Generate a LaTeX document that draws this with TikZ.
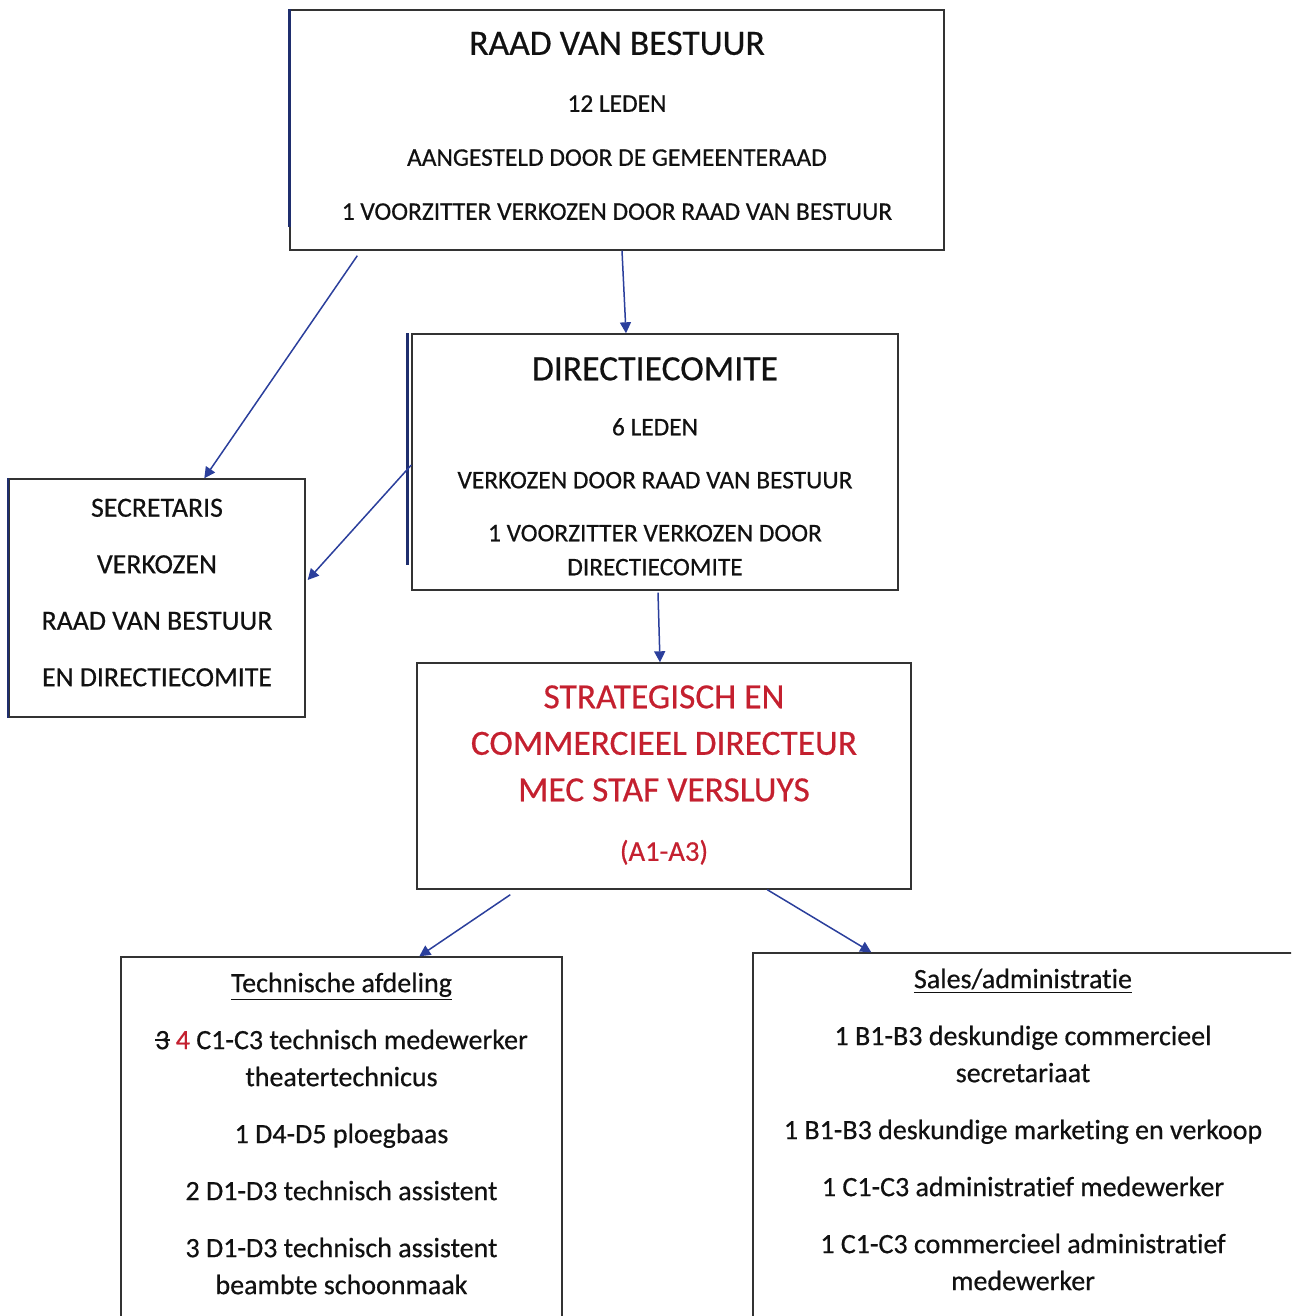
\documentclass[tikz,border=0pt]{standalone}
\usepackage{fontspec}
\setmainfont{Carlito}[Ligatures={NoCommon}, FakeBold=0.5]
\usepackage{tikz}
\usetikzlibrary{calc, positioning}
\usetikzlibrary{arrows.meta}
\definecolor{inkblack}{HTML}{111111}
\definecolor{boxgray}{HTML}{333333}
\definecolor{linkblue}{HTML}{2B3F9C}
\definecolor{edgenavy}{HTML}{1F2E6E}
\definecolor{orgred}{HTML}{C4202F}
\def\lw{0.7pt}
\def\tipsize{5.5pt}
\newcommand\strikedigit[1]{\rlap{\rule[0.28em]{0.52em}{0.07em}}#1}
\tikzset{
    orgbox/.style = {
        draw=boxgray, line width=\lw, rectangle, inner sep=0pt
    },
    boxtext/.style = {inner sep=0pt, align=center, text=inkblack},
    capstext/.style = {boxtext, font=\fontsize{12.7}{16}\selectfont},
    listtext/.style = {boxtext, font=\fontsize{14}{18.5}\selectfont},
    navyedge/.style = {draw=edgenavy, line width=1.3pt},
    link/.style = {draw=linkblue, line width=0.75pt, -{Triangle[width=\tipsize,length=\tipsize]}}
}
\newcommand\bigcaps[1]{{\fontsize{17.8}{22}\selectfont #1}}

\begin{document}
\begin{tikzpicture}[x=0.5pt, y=-0.5pt]
        \clip (0,0) rectangle (1291,1316);
        % Place the blocks
        \node [orgbox, minimum width=327pt, minimum height=120pt] (rvb) at (617,130) {};
        \node [orgbox, minimum width=243pt, minimum height=128pt] (dc) at (655,462) {};
        \node [orgbox, minimum width=148pt, minimum height=119pt] (secr) at (157,598) {};
        \node [orgbox, minimum width=247pt, minimum height=113pt] (strat) at (664,776) {};
        \node [orgbox, minimum width=220.5pt, minimum height=191.5pt] (tech) at (341.5,1148.5) {};
        \node [orgbox, minimum width=270pt, minimum height=193.5pt] (sales) at (1023,1146.5) {};

        % Texts of the blocks
        \node [capstext, below=11pt of rvb.north] (rvbtext)
            {\bigcaps{RAAD VAN BESTUUR}\\[12.5pt]
             12 LEDEN\\[11pt]
             AANGESTELD DOOR DE GEMEENTERAAD\\[11pt]
             1 VOORZITTER VERKOZEN DOOR RAAD VAN BESTUUR};
        \node [capstext, font=\fontsize{12.7}{17}\selectfont, below=11.75pt of dc.north] (dctext)
            {\bigcaps{DIRECTIECOMITE}\\[10.5pt]
             6 LEDEN\\[9.5pt]
             VERKOZEN DOOR RAAD VAN BESTUUR\\[9.5pt]
             1 VOORZITTER VERKOZEN DOOR\\
             DIRECTIECOMITE};
        \node [boxtext, font=\fontsize{13.9}{19}\selectfont, below=10pt of secr.north] (secrtext)
            {SECRETARIS\\[9.25pt]
             VERKOZEN\\[9.25pt]
             RAAD VAN BESTUUR\\[9.25pt]
             EN DIRECTIECOMITE};
        \node [boxtext, text=orgred, font=\fontsize{17.7}{23.25}\selectfont, below=11.3pt of strat.north] (strattext)
            {STRATEGISCH EN\\
             COMMERCIEEL DIRECTEUR\\
             MEC STAF VERSLUYS\\[6.5pt]
             {\fontsize{14.3}{16}\selectfont (A1-A3)}};
        \node [listtext, below=8pt of tech.north] (techlist)
            {\underline{Technische afdeling}\\[10pt]
             \strikedigit{3} \textcolor{orgred}{4} C1-C3 technisch medewerker\\
             theatertechnicus\\[10pt]
             1 D4-D5 ploegbaas\\[10pt]
             2 D1-D3 technisch assistent\\[10pt]
             3 D1-D3 technisch assistent\\
             beambte schoonmaak};
        \node [listtext, below=8pt of sales.north] (saleslist)
            {\underline{Sales/administrat\kern0pt ie}\\[10pt]
             1 B1-B3 deskundige commercieel\\
             secretariaat\\[10pt]
             1 B1-B3 deskundige marketing en verkoop\\[10pt]
             1 C1-C3 administrat\kern0pt ief medewerker\\[10pt]
             1 C1-C3 commercieel administrat\kern0pt ief\\
             medewerker};

        % Darker left edges
        \draw [navyedge] (rvb.north west) -- ([yshift=12pt] rvb.south west);
        \draw [navyedge] ([xshift=-2pt] dc.north west) -- ([xshift=-2pt, yshift=13pt] dc.south west);
        \draw [navyedge, line width=0.9pt] (secr.north west) -- (secr.south west);

        % Arrow end points
        \coordinate (a1s) at ([xshift=34pt, yshift=-2.5pt] rvb.south west);
        \coordinate (a1e) at ([xshift=98pt] secr.north west);
        \coordinate (a2s) at ([xshift=2.5pt] rvb.south);
        \coordinate (a2e) at ([xshift=-14.5pt] dc.north);
        \coordinate (a3s) at ([yshift=-1.5pt] dc.west);
        \coordinate (a3e) at ([xshift=1pt, yshift=9pt] secr.east);
        \coordinate (a4s) at ([xshift=1.5pt, yshift=-1pt] dc.south);
        \coordinate (a4e) at ([xshift=-2pt] strat.north);
        \coordinate (a5s) at ([xshift=47pt, yshift=-2.5pt] strat.south west);
        \coordinate (a5e) at ([xshift=149.5pt] tech.north west);
        \coordinate (a6s) at ([xshift=175.5pt] strat.south west);
        \coordinate (a6e) at ([xshift=59.5pt] sales.north west);
        \foreach \x in {1, 2, ..., 6}{
            \draw [link] (a\x s) -- (a\x e);
        }
    \end{tikzpicture}
\end{document}
